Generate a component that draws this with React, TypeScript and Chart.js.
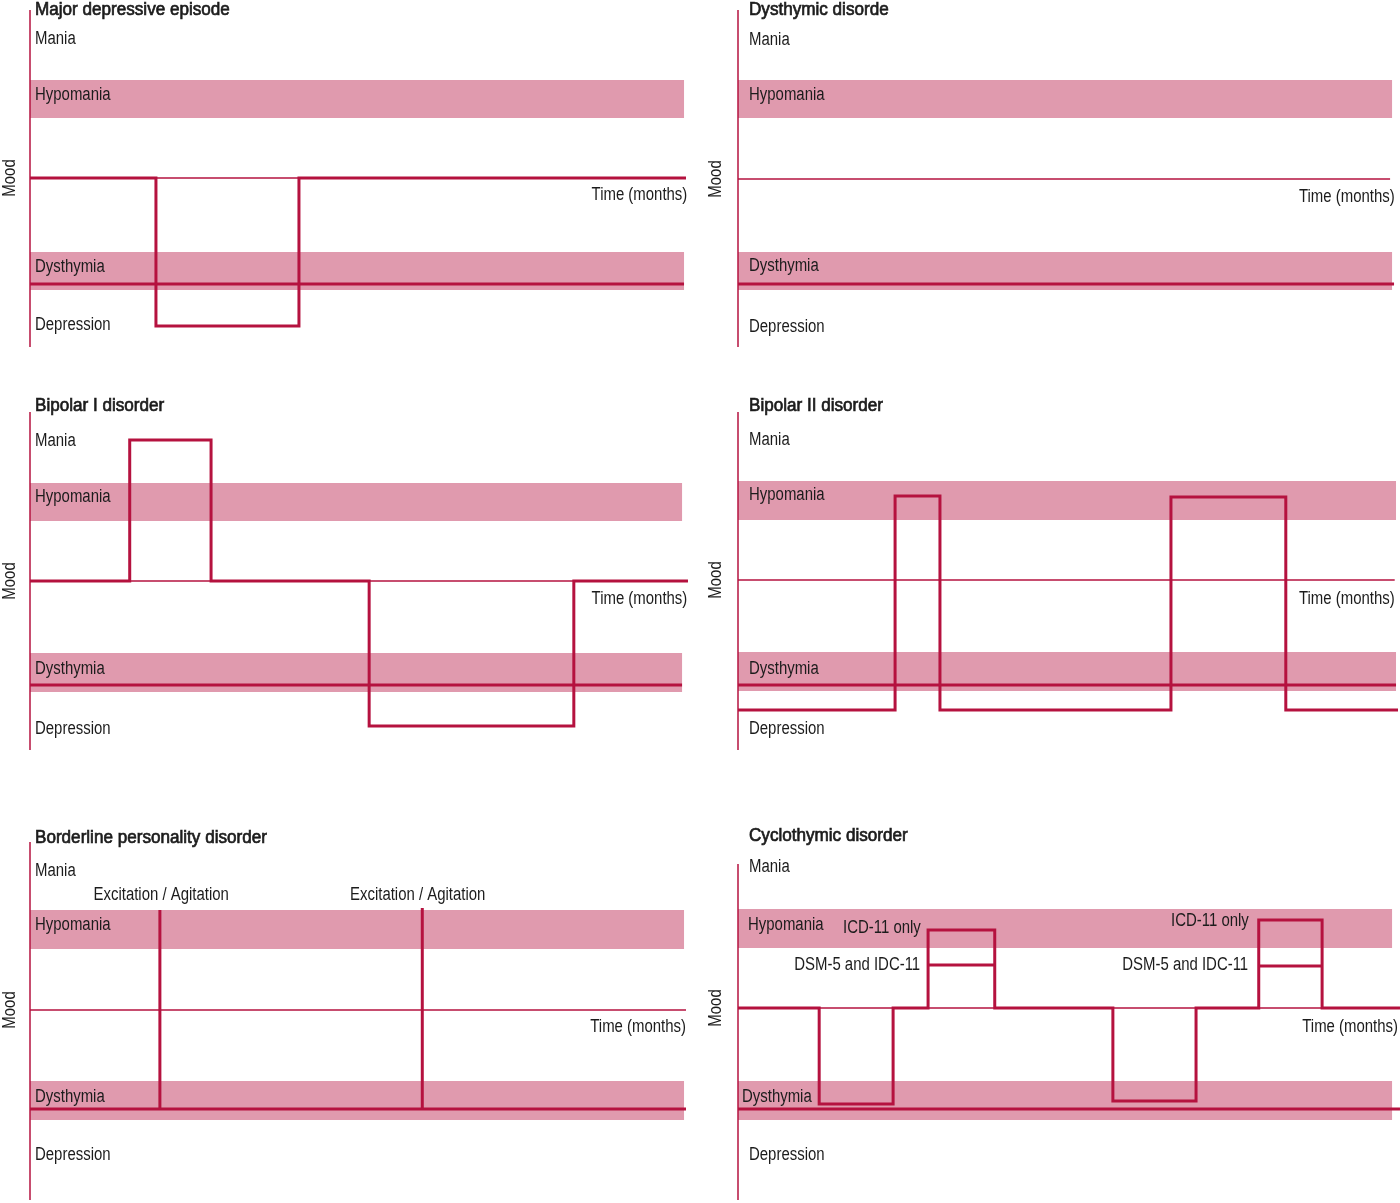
import { useEffect, useRef } from 'react';
import { Chart, registerables } from 'chart.js';

Chart.register(...registerables);

const W = 1400;
const H = 1203;
const LINE = '#B5123F';
const BAND = '#E09AAE';
const TEXT = '#1c1c1c';
const FONT = '"Liberation Sans", Arial, Helvetica, sans-serif';
const LABEL_SQUEEZE = 0.83;
const TITLE_SQUEEZE = 0.95;

// ---------- texts ----------
const LEVEL_NAMES = ['Mania', 'Hypomania', 'Dysthymia', 'Depression'];
const TITLES = [
  'Major depressive episode',
  'Dysthymic disorde',
  'Bipolar I disorder',
  'Bipolar II disorder',
  'Borderline personality disorder',
  'Cyclothymic disorder',
];
const AXIS_TITLE = 'Mood';
const TIME_LABEL = 'Time (months)';

// ---------- mood bands / reference lines (mood units, 0 = normal mood) ----------
const HYPO_BANDS = [[6.0, 9.8], [6.1, 9.9], [6.0, 9.8], [6.0, 9.9], [6.1, 10.0], [6.0, 9.9]];
const DYS_BANDS = [[-11.2, -7.4], [-11.1, -7.3], [-11.1, -7.2], [-11.1, -7.2], [-11.0, -7.1], [-11.2, -7.3]];
const BAND_END = [99.7, 99.1, 99.4, 99.7, 99.7, 99.1];
const BASELINE_END = [100, 98.8, 100.3, 99.5, 100, 100.3];
const DYS_LINE = [-10.6, -10.5, -10.4, -10.5, -9.9, -10.1];
const DYS_LINE_END = [99.7, 99.4, 99.4, 99.7, 100, 100.3];
const LEVEL_LABEL_Y = [
  [13.9, 8.3, -8.9, -14.7],
  [13.9, 8.4, -8.7, -14.8],
  [14.0, 8.4, -8.8, -14.8],
  [14.0, 8.5, -8.9, -14.9],
  [13.9, 8.5, -8.7, -14.5],
  [14.1, 8.3, -8.9, -14.7],
];
const TITLE_Y = [16.8, 16.9, 17.5, 17.4, 17.2, 17.2];
const AXIS_RANGE = [[16.8, -16.9], [16.9, -16.8], [16.9, -16.9], [16.8, -17.0], [16.8, -19.0], [14.4, -19.2]];
const TIME_LABEL_POS = [[100.2, -1.7], [99.5, -1.8], [100.2, -1.8], [99.5, -1.9], [100, -1.7], [100, -1.9]];

// ---------- mood courses (time = % of panel width, stepped) ----------
const mdeTimes = [0, 19.2, 41.0, 100];
const mdeMood = [0, -14.8, 0, 0];

const bp1Times = [0, 15.2, 27.6, 51.7, 82.9, 100.3];
const bp1Mood = [0, 14.1, 0, -14.5, 0, 0];

const bp2Times = [0, 23.8, 30.6, 65.6, 83.0, 100];
const bp2Mood = [-13, 8.4, -13, 8.3, -13, -13];

const cycloTimes = [0, 12.3, 23.5, 28.8, 38.9, 56.8, 69.4, 78.9, 88.5, 100.3];
const cycloMood = [0, -9.6, 0, 7.8, 0, -9.3, 0, 8.8, 0, 0];

const cycloDsmStart = [28.8, 78.9];
const cycloDsmEnd = [38.9, 88.5];
const cycloDsmMood = [4.3, 4.2];
const cycloNoteText = ['ICD-11 only', 'DSM-5 and IDC-11', 'ICD-11 only', 'DSM-5 and IDC-11'];
const cycloNoteX = [27.7, 27.6, 77.4, 77.3];
const cycloNoteY = [8.0, 4.3, 8.7, 4.3];

const bpdSpikeTimes = [19.8, 59.8];
const bpdSpikeTop = [10.0, 10.2];
const bpdSpikeBase = -9.9;
const bpdNoteText = 'Excitation / Agitation';
const bpdNoteX = [20.0, 59.1];
const bpdNoteY = 11.5;

// ---------- panel geometry (layout only) ----------
const GEOM = [
  { axisX: 30, xEnd: 686, y0: 178 },
  { axisX: 738, xEnd: 1398, y0: 179 },
  { axisX: 30, xEnd: 686, y0: 581 },
  { axisX: 738, xEnd: 1398, y0: 580 },
  { axisX: 30, xEnd: 686, y0: 1010 },
  { axisX: 738, xEnd: 1398, y0: 1008 },
];
const LABEL_DX = [
  [5, 5, 5, 5],
  [11, 11, 11, 11],
  [5, 5, 5, 5],
  [11, 11, 11, 11],
  [5, 5, 5, 5],
  [11, 10, 4, 11],
];

const STEPS: Record<number, [number[], number[]]> = {
  0: [mdeTimes, mdeMood],
  2: [bp1Times, bp1Mood],
  3: [bp2Times, bp2Mood],
  5: [cycloTimes, cycloMood],
};

function seg(data: { x: number; y: number }[], width: number, extra: any = {}) {
  return {
    data,
    borderColor: LINE,
    borderWidth: width,
    pointRadius: 0,
    tension: 0,
    clip: false,
    borderJoinStyle: 'miter',
    borderCapStyle: 'butt',
    fill: false,
    ...extra,
  };
}

function buildDatasets(i: number) {
  const ds: any[] = [];
  ds.push(seg([{ x: 0, y: 0 }, { x: BASELINE_END[i], y: 0 }], 1.5));
  ds.push(seg([{ x: 0, y: DYS_LINE[i] }, { x: DYS_LINE_END[i], y: DYS_LINE[i] }], 3));
  const st = STEPS[i];
  if (st) {
    ds.push(seg(st[0].map((t, k) => ({ x: t, y: st[1][k] })), 3, { stepped: true }));
  }
  if (i === 5) {
    cycloDsmStart.forEach((s, k) => {
      ds.push(seg([{ x: s, y: cycloDsmMood[k] }, { x: cycloDsmEnd[k], y: cycloDsmMood[k] }], 3));
    });
  }
  if (i === 4) {
    bpdSpikeTimes.forEach((t, k) => {
      ds.push(seg([{ x: t, y: bpdSpikeBase }, { x: t, y: bpdSpikeTop[k] }], 3));
    });
  }
  return ds;
}

function text(
  ctx: CanvasRenderingContext2D,
  s: string,
  x: number,
  y: number,
  align: CanvasTextAlign,
  heavy = false,
  rotate = 0
) {
  ctx.save();
  ctx.font = `18px ${FONT}`;
  ctx.fillStyle = TEXT;
  ctx.strokeStyle = TEXT;
  ctx.textBaseline = 'middle';
  ctx.textAlign = align;
  ctx.translate(x, y);
  if (rotate) ctx.rotate(rotate);
  ctx.scale(heavy ? TITLE_SQUEEZE : LABEL_SQUEEZE, 1);
  ctx.fillText(s, 0, 0);
  if (heavy) {
    ctx.lineWidth = 0.7;
    ctx.strokeText(s, 0, 0);
  }
  ctx.restore();
}

function decor(i: number) {
  return {
    id: 'moodDecor' + i,
    beforeDatasetsDraw(chart: any) {
      const { ctx } = chart;
      const x = chart.scales.x;
      const y = chart.scales.y;
      const g = GEOM[i];
      const x0 = x.getPixelForValue(0);
      ctx.save();
      // bands
      ctx.fillStyle = BAND;
      for (const [lo, hi] of [HYPO_BANDS[i], DYS_BANDS[i]]) {
        const top = y.getPixelForValue(hi);
        const bot = y.getPixelForValue(lo);
        ctx.fillRect(x0, top, x.getPixelForValue(BAND_END[i]) - x0, bot - top);
      }
      // vertical mood axis
      ctx.strokeStyle = LINE;
      ctx.lineWidth = 1.5;
      ctx.beginPath();
      ctx.moveTo(x0, y.getPixelForValue(AXIS_RANGE[i][0]));
      ctx.lineTo(x0, y.getPixelForValue(AXIS_RANGE[i][1]));
      ctx.stroke();
      ctx.restore();

      // title
      text(ctx, TITLES[i], x0 + LABEL_DX[i][0], y.getPixelForValue(TITLE_Y[i]), 'left', true);
      // level labels
      LEVEL_NAMES.forEach((name, k) => {
        text(ctx, name, x0 + LABEL_DX[i][k], y.getPixelForValue(LEVEL_LABEL_Y[i][k]), 'left');
      });
      // time label
      text(ctx, TIME_LABEL, x.getPixelForValue(TIME_LABEL_POS[i][0]), y.getPixelForValue(TIME_LABEL_POS[i][1]), 'right');
      // annotations
      if (i === 5) {
        cycloNoteText.forEach((t, k) => {
          text(ctx, t, x.getPixelForValue(cycloNoteX[k]), y.getPixelForValue(cycloNoteY[k]), 'right');
        });
      }
      if (i === 4) {
        bpdNoteX.forEach((nx) => {
          text(ctx, bpdNoteText, x.getPixelForValue(nx), y.getPixelForValue(bpdNoteY), 'center');
        });
      }
      // mood axis title
      text(ctx, AXIS_TITLE, g.axisX - (g.axisX > 100 ? 22 : 20), y.getPixelForValue(0), 'center', false, -Math.PI / 2);
    },
  };
}

function Panel({ idx }: { idx: number }) {
  const ref = useRef<HTMLCanvasElement>(null);
  useEffect(() => {
    const g = GEOM[idx];
    const chart = new Chart(ref.current as HTMLCanvasElement, {
      type: 'line',
      data: { datasets: buildDatasets(idx) },
      options: {
        animation: false,
        responsive: false,
        devicePixelRatio: 1,
        events: [],
        layout: {
          padding: { left: g.axisX, right: W - g.xEnd, top: g.y0 - 170, bottom: H - g.y0 - 170 },
        },
        scales: {
          x: { type: 'linear', min: 0, max: 100, display: false },
          y: { type: 'linear', min: -17, max: 17, display: false },
        },
        plugins: { legend: { display: false }, tooltip: { enabled: false }, title: { display: false } },
      } as any,
      plugins: [decor(idx)],
    });
    return () => chart.destroy();
  }, [idx]);
  return (
    <canvas
      ref={ref}
      width={W}
      height={H}
      style={{ position: 'absolute', left: 0, top: 0, width: W, height: H }}
    />
  );
}

export default function App() {
  return (
    <div style={{ position: 'absolute', left: 0, top: 0, width: W, height: H, background: '#fff' }}>
      {[0, 1, 2, 3, 4, 5].map((i) => (
        <Panel key={i} idx={i} />
      ))}
    </div>
  );
}
